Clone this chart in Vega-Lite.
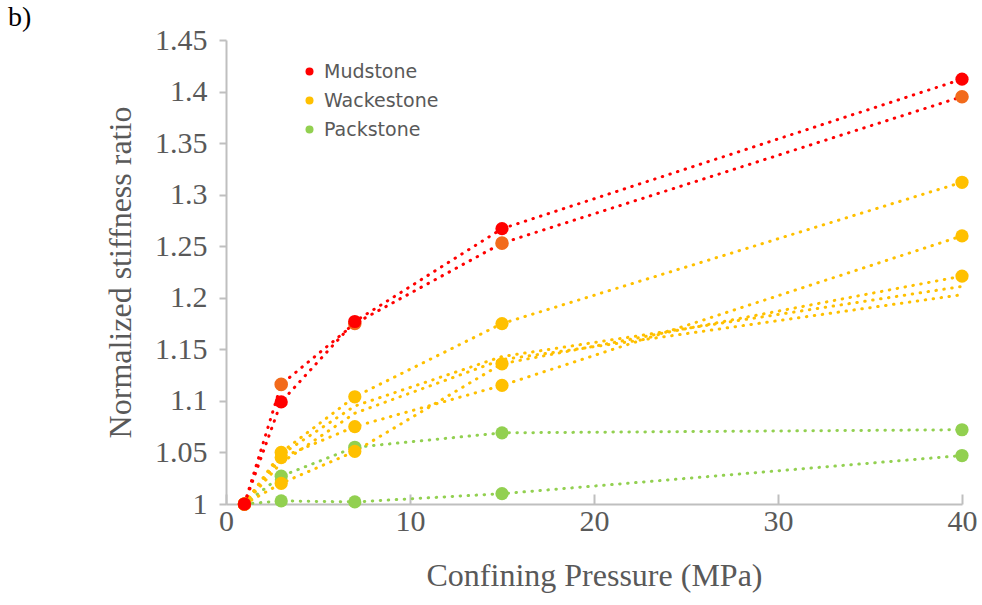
{
  "$schema": "https://vega.github.io/schema/vega-lite/v6.json",
  "width": 736,
  "height": 464,
  "autosize": {"type": "none"},
  "padding": {"left": 226, "top": 40, "right": 20, "bottom": 101},
  "background": "white",
  "title": {"text": "b)", "anchor": "start", "frame": "group", "dx": -218, "dy": 17, "offset": 10, "font": "Liberation Serif", "fontSize": 28, "fontWeight": "normal", "color": "#000000"},
  "config": {
    "view": {"stroke": null},
    "axis": {"grid": false, "domainColor": "#BFBFBF", "domainWidth": 2, "tickColor": "#BFBFBF", "tickWidth": 2, "labelFont": "Liberation Serif", "labelFontSize": 30, "labelColor": "#595959", "titleFont": "Liberation Serif", "titleFontSize": 32, "titleFontWeight": "normal", "titleColor": "#595959", "labelFlush": false},
    "legend": {"orient": "none", "legendX": 74, "legendY": 22, "symbolType": "circle", "symbolSize": 64, "labelFont": "DejaVu Sans", "labelFontSize": 19, "labelColor": "#595959", "labelOffset": 5, "rowPadding": 9, "padding": 0, "titlePadding": 0}
  },
  "data": {
    "values": [
      {"sample": "Packstone 1", "lithology": "Packstone", "p": 1, "r": 1.0},
      {"sample": "Packstone 1", "lithology": "Packstone", "p": 3, "r": 1.027},
      {"sample": "Packstone 1", "lithology": "Packstone", "p": 7, "r": 1.055},
      {"sample": "Packstone 1", "lithology": "Packstone", "p": 15, "r": 1.069},
      {"sample": "Packstone 1", "lithology": "Packstone", "p": 40, "r": 1.072},
      {"sample": "Packstone 2", "lithology": "Packstone", "p": 1, "r": 1.0},
      {"sample": "Packstone 2", "lithology": "Packstone", "p": 3, "r": 1.003},
      {"sample": "Packstone 2", "lithology": "Packstone", "p": 7, "r": 1.002},
      {"sample": "Packstone 2", "lithology": "Packstone", "p": 15, "r": 1.010},
      {"sample": "Packstone 2", "lithology": "Packstone", "p": 40, "r": 1.047},
      {"sample": "Wackestone 4", "lithology": "Wackestone", "p": 1, "r": 1.0},
      {"sample": "Wackestone 4", "lithology": "Wackestone", "p": 3, "r": 1.048},
      {"sample": "Wackestone 4", "lithology": "Wackestone", "p": 7, "r": 1.095},
      {"sample": "Wackestone 4", "lithology": "Wackestone", "p": 15, "r": 1.143},
      {"sample": "Wackestone 4", "lithology": "Wackestone", "p": 40, "r": 1.211},
      {"sample": "Wackestone 5", "lithology": "Wackestone", "p": 1, "r": 1.0},
      {"sample": "Wackestone 5", "lithology": "Wackestone", "p": 3, "r": 1.040},
      {"sample": "Wackestone 5", "lithology": "Wackestone", "p": 7, "r": 1.088},
      {"sample": "Wackestone 5", "lithology": "Wackestone", "p": 15, "r": 1.140},
      {"sample": "Wackestone 5", "lithology": "Wackestone", "p": 40, "r": 1.203},
      {"sample": "Wackestone 1", "lithology": "Wackestone", "p": 1, "r": 1.0},
      {"sample": "Wackestone 1", "lithology": "Wackestone", "p": 3, "r": 1.050},
      {"sample": "Wackestone 1", "lithology": "Wackestone", "p": 7, "r": 1.104},
      {"sample": "Wackestone 1", "lithology": "Wackestone", "p": 15, "r": 1.175},
      {"sample": "Wackestone 1", "lithology": "Wackestone", "p": 40, "r": 1.312},
      {"sample": "Wackestone 2", "lithology": "Wackestone", "p": 1, "r": 1.0},
      {"sample": "Wackestone 2", "lithology": "Wackestone", "p": 3, "r": 1.020},
      {"sample": "Wackestone 2", "lithology": "Wackestone", "p": 7, "r": 1.051},
      {"sample": "Wackestone 2", "lithology": "Wackestone", "p": 15, "r": 1.136},
      {"sample": "Wackestone 2", "lithology": "Wackestone", "p": 40, "r": 1.221},
      {"sample": "Wackestone 3", "lithology": "Wackestone", "p": 1, "r": 1.0},
      {"sample": "Wackestone 3", "lithology": "Wackestone", "p": 3, "r": 1.045},
      {"sample": "Wackestone 3", "lithology": "Wackestone", "p": 7, "r": 1.075},
      {"sample": "Wackestone 3", "lithology": "Wackestone", "p": 15, "r": 1.115},
      {"sample": "Wackestone 3", "lithology": "Wackestone", "p": 40, "r": 1.260},
      {"sample": "Mudstone 2", "lithology": "Mudstone", "p": 1, "r": 1.0},
      {"sample": "Mudstone 2", "lithology": "Mudstone", "p": 3, "r": 1.116},
      {"sample": "Mudstone 2", "lithology": "Mudstone", "p": 7, "r": 1.175},
      {"sample": "Mudstone 2", "lithology": "Mudstone", "p": 15, "r": 1.253},
      {"sample": "Mudstone 2", "lithology": "Mudstone", "p": 40, "r": 1.395},
      {"sample": "Mudstone 1", "lithology": "Mudstone", "p": 1, "r": 1.0},
      {"sample": "Mudstone 1", "lithology": "Mudstone", "p": 3, "r": 1.099},
      {"sample": "Mudstone 1", "lithology": "Mudstone", "p": 7, "r": 1.177},
      {"sample": "Mudstone 1", "lithology": "Mudstone", "p": 15, "r": 1.267},
      {"sample": "Mudstone 1", "lithology": "Mudstone", "p": 40, "r": 1.412}
    ]
  },
  "encoding": {
    "x": {"field": "p", "type": "quantitative", "scale": {"domain": [0, 40], "nice": false},
          "axis": {"values": [0, 10, 20, 30, 40], "title": "Confining Pressure (MPa)", "tickSize": -10, "labelPadding": 12, "titlePadding": 24}},
    "y": {"field": "r", "type": "quantitative", "scale": {"domain": [1, 1.45], "nice": false, "zero": false},
          "axis": {"values": [1, 1.05, 1.1, 1.15, 1.2, 1.25, 1.3, 1.35, 1.4, 1.45], "format": ".2~f", "title": "Normalized stiffness ratio", "tickSize": 7, "labelPadding": 12, "titlePadding": 17}}
  },
  "layer": [
    {
      "transform": [{"filter": "datum.lithology == 'Packstone'"}],
      "mark": {"type": "line", "strokeWidth": 3, "strokeCap": "round", "strokeDash": [0.5, 7.5], "color": "#92D050"},
      "encoding": {"detail": {"field": "sample"}, "order": {"field": "p"}}
    },
    {
      "transform": [{"filter": "datum.lithology == 'Wackestone'"}],
      "mark": {"type": "line", "strokeWidth": 3, "strokeCap": "round", "strokeDash": [0.5, 7.5], "color": "#FFC000"},
      "encoding": {"detail": {"field": "sample"}, "order": {"field": "p"}}
    },
    {
      "transform": [{"filter": "datum.lithology == 'Mudstone'"}],
      "mark": {"type": "line", "strokeWidth": 3, "strokeCap": "round", "strokeDash": [0.5, 7.5], "color": "#FF0000"},
      "encoding": {"detail": {"field": "sample"}, "order": {"field": "p"}}
    },
    {
      "transform": [{"filter": "datum.lithology != 'Mudstone' && datum.sample != 'Wackestone 4' && datum.sample != 'Wackestone 5'"}],
      "mark": {"type": "point", "filled": true, "opacity": 1, "size": 175},
      "encoding": {
        "color": {"field": "lithology", "type": "nominal",
                  "scale": {"domain": ["Mudstone", "Wackestone", "Packstone"], "range": ["#FF0000", "#FFC000", "#92D050"]},
                  "legend": {"title": null}}
      }
    },
    {
      "transform": [{"filter": "datum.sample == 'Mudstone 2'"}],
      "mark": {"type": "point", "filled": true, "opacity": 1, "size": 185, "color": "#F26A1B"}
    },
    {
      "transform": [{"filter": "datum.sample == 'Mudstone 1'"}],
      "mark": {"type": "point", "filled": true, "opacity": 1, "size": 175},
      "encoding": {
        "color": {"field": "lithology", "type": "nominal", "legend": {"title": null}}
      }
    }
  ]
}
